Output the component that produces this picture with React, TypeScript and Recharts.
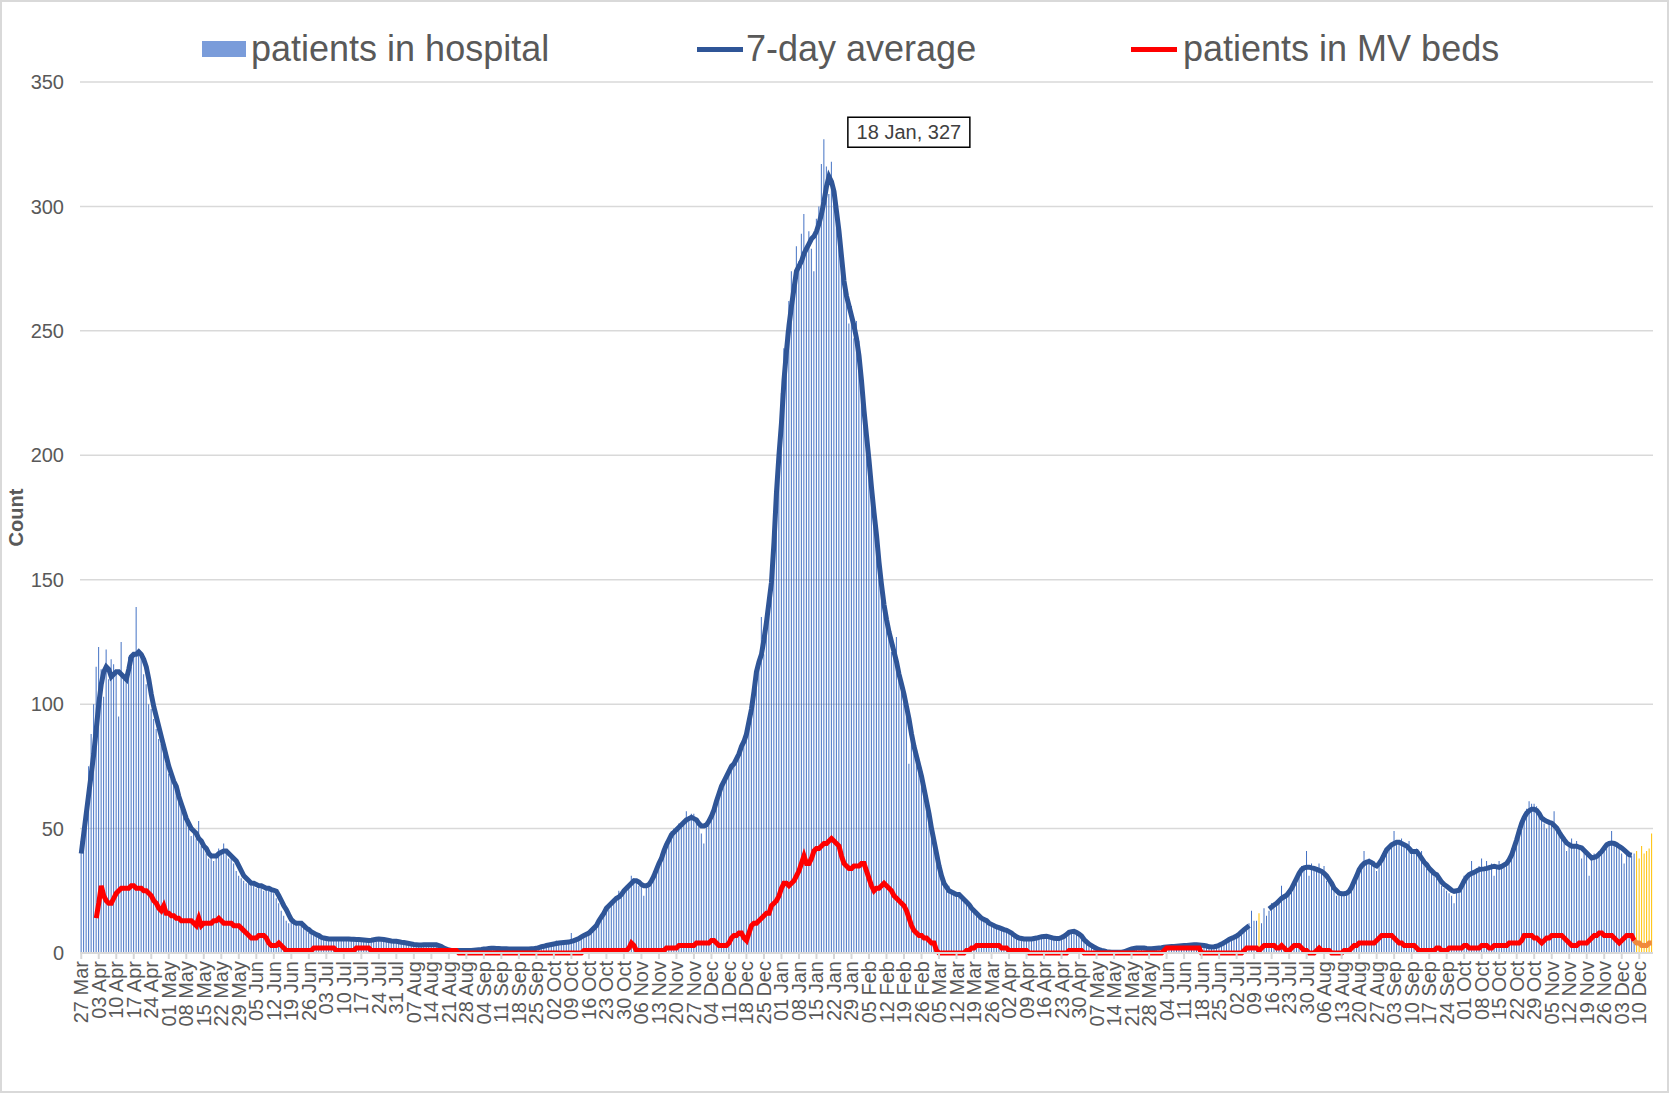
import { ComposedChart, Bar, Line, XAxis, YAxis, CartesianGrid, Cell } from 'recharts'

const W = 1669
const H = 1093
const FONT = "'Liberation Sans', Arial, sans-serif"
const TEXT = '#595959'

// one row per week, starting 27 Mar 2020
const hospital = [
  45, 52, 60, 75, 88, 100, 115,
  123, 114, 103, 122, 110, 118, 116,
  112, 95, 125, 110, 110, 119, 115,
  121, 139, 121, 120, 112, 108, 100,
  98, 94, 90, 86, 84, 80, 76,
  72, 70, 68, 65, 62, 58, 55,
  53, 52, 47, 50, 46, 53, 43,
  42, 40, 38, 39, 37, 40, 42,
  41, 44, 40, 38, 39, 36, 33,
  31, 30, 29, 28, 28, 27, 27,
  26, 26, 27, 25, 26, 25, 26,
  24, 22, 20, 17, 15, 13, 12,
  13, 12, 12, 11, 12, 10, 9,
  8, 8, 7, 7, 6, 6, 6,
  6, 5, 6, 6, 5, 6, 5,
  6, 5, 6, 5, 6, 5, 5,
  5, 5, 5, 5, 5, 6, 6,
  6, 5, 5, 5, 5, 4, 5,
  4, 5, 4, 4, 4, 4, 3,
  3, 3, 3, 3, 4, 3, 3,
  4, 3, 3, 3, 2, 2, 1,
  1, 1, 1, 1, 1, 1, 1,
  1, 1, 1, 1, 1, 2, 1,
  2, 2, 2, 2, 2, 2, 2,
  2, 1, 2, 2, 2, 1, 2,
  2, 1, 2, 2, 1, 2, 2,
  2, 2, 3, 3, 3, 3, 4,
  4, 5, 4, 4, 4, 5, 4,
  8, 5, 6, 6, 7, 7, 8,
  8, 9, 10, 12, 14, 15, 16,
  19, 19, 20, 22, 22, 25, 23,
  26, 27, 28, 31, 30, 29, 27,
  28, 23, 27, 28, 30, 33, 35,
  37, 40, 43, 45, 47, 49, 50,
  50, 52, 51, 53, 57, 55, 56,
  56, 54, 52, 48, 44, 52, 54,
  56, 58, 62, 65, 68, 70, 72,
  74, 75, 77, 79, 82, 84, 87,
  90, 96, 101, 108, 114, 118, 135,
  120, 130, 142, 155, 172, 190, 206,
  225, 243, 250, 262, 274, 270, 284,
  278, 289, 297, 282, 290, 283, 274,
  295, 300, 317, 327, 316, 305, 318,
  302, 295, 292, 285, 268, 262, 253,
  260, 247, 254, 246, 238, 222, 210,
  200, 182, 177, 165, 160, 150, 138,
  134, 128, 121, 124, 127, 112, 105,
  103, 97, 76, 90, 85, 78, 74,
  70, 66, 60, 55, 48, 43, 38,
  33, 30, 27, 25, 27, 24, 25,
  24, 23, 22, 21, 20, 19, 18,
  17, 16, 15, 14, 14, 13, 12,
  11, 12, 10, 10, 10, 9, 9,
  8, 8, 7, 6, 6, 6, 5,
  5, 6, 6, 6, 6, 7, 6,
  7, 7, 6, 6, 6, 5, 6,
  6, 7, 8, 9, 9, 9, 8,
  7, 7, 5, 4, 4, 3, 2,
  2, 1, 1, 1, 0, 0, 0,
  0, 0, 0, 0, 1, 1, 1,
  2, 2, 2, 2, 2, 2, 2,
  2, 2, 2, 2, 2, 2, 3,
  2, 3, 3, 3, 3, 3, 3,
  3, 3, 3, 4, 3, 3, 3,
  3, 3, 3, 2, 2, 3, 3,
  3, 4, 4, 5, 6, 6, 7,
  7, 8, 9, 10, 11, 12, 17,
  13, 13, 16, 12, 18, 15, 17,
  20, 18, 21, 22, 27, 22, 24,
  25, 27, 28, 31, 33, 35, 34,
  41, 31, 36, 35, 33, 36, 32,
  35, 29, 30, 27, 25, 23, 23,
  24, 23, 24, 25, 27, 29, 32,
  34, 36, 41, 37, 38, 36, 37,
  33, 35, 38, 40, 42, 43, 44,
  49, 45, 44, 46, 43, 42, 45,
  41, 40, 42, 39, 41, 36, 34,
  33, 32, 31, 30, 29, 27, 26,
  25, 24, 23, 20, 25, 26, 28,
  31, 30, 32, 37, 33, 34, 35,
  38, 34, 37, 35, 36, 31, 35,
  37, 34, 36, 37, 38, 42, 43,
  46, 50, 53, 56, 58, 61, 60,
  60, 59, 56, 55, 52, 50, 53,
  52, 57, 50, 49, 47, 45, 41,
  44, 46, 43, 45, 42, 38, 42,
  40, 31, 38, 40, 39, 41, 42,
  43, 44, 45, 49, 44, 43, 42,
  40, 36, 41, 40, 39, 40, 41,
  38, 43, 40, 41, 42, 48,
]

const avg7 = [
  40, 48, 56, 64, 72, 80, 90,
  100, 108, 113, 115, 114, 111, 112,
  113, 113, 112, 111, 110, 114, 119,
  120, 120, 121, 120, 118, 115, 110,
  104, 99, 95, 91, 87, 83, 79,
  75, 72, 69, 67, 63, 60, 57,
  54, 52, 50, 49, 48, 46, 45,
  43, 42, 40, 39, 39, 39, 40,
  40.5, 41, 41, 40, 39, 38, 37,
  35, 33, 31, 30, 29, 28, 28,
  27.5, 27, 27, 26.5, 26, 26, 25.5,
  25.2, 24.8, 23, 21, 19, 17.4, 15.3,
  13.4, 12.5, 12, 12, 12, 11, 10,
  9.4, 8.5, 8, 7.4, 7, 6.3, 6,
  5.8, 5.6, 5.6, 5.6, 5.6, 5.6, 5.6,
  5.6, 5.6, 5.6, 5.5, 5.5, 5.4, 5.4,
  5.3, 5.2, 5.1, 5, 5.1, 5.3, 5.5,
  5.6, 5.5, 5.4, 5.2, 5, 4.8, 4.7,
  4.7, 4.5, 4.3, 4.2, 4, 3.8, 3.6,
  3.4, 3.3, 3.2, 3.2, 3.3, 3.3, 3.3,
  3.3, 3.3, 3.3, 3, 2.6, 2, 1.6,
  1.2, 1, 1, 1, 1, 1, 1,
  1, 1, 1, 1.1, 1.2, 1.3, 1.4,
  1.6, 1.6, 1.8, 1.9, 1.9, 1.8, 1.8,
  1.7, 1.7, 1.7, 1.6, 1.6, 1.6, 1.6,
  1.6, 1.6, 1.6, 1.6, 1.6, 1.7, 1.7,
  1.9, 2.2, 2.5, 2.7, 3, 3.2, 3.4,
  3.6, 3.8, 4, 4.1, 4.2, 4.3, 4.4,
  4.7, 5, 5.4, 5.8, 6.5, 7, 7.5,
  8, 9, 10, 11, 13, 14.5, 16,
  18, 19, 20, 21, 22, 22.5, 23.5,
  25, 26, 27, 28, 29, 29, 28.5,
  27.5, 27, 27, 27.5, 29, 31, 33.5,
  36, 38, 41, 43.5, 45.5, 47.5, 48.5,
  49.5, 50.5, 51.5, 52.5, 53.5, 54, 54.5,
  54, 53.5, 52, 51, 51, 51.5, 53,
  55, 57.5, 61, 64, 67, 69, 71,
  73, 75, 76, 78, 80, 83, 85,
  88, 93, 98, 105, 113, 117, 120,
  126, 133, 141, 149, 165, 185, 200,
  213, 230, 242, 252, 260, 267, 274,
  276, 278, 281, 283, 285, 287, 288,
  290, 293, 297, 302, 308, 312, 310,
  306, 298, 290, 280, 270, 264, 260,
  256, 252, 247, 240, 230, 218, 208,
  198, 187, 177, 168, 157, 148, 140,
  134, 129, 125, 121, 117, 112, 108,
  104, 99, 94, 88, 83, 79, 75,
  71, 66, 61, 56, 50, 45, 40,
  35, 31, 28, 26.5, 25, 24.5, 24,
  23.5, 23.5, 22.5, 21.5, 20.5, 19.5, 18,
  17, 16, 15, 14, 13.5, 13, 12,
  11.5, 11, 10.5, 10.2, 9.8, 9.4, 9.1,
  8.6, 8, 7.2, 6.5, 6, 5.8, 5.6,
  5.6, 5.6, 5.6, 5.8, 6, 6.3, 6.5,
  6.6, 6.7, 6.5, 6.2, 5.9, 5.8, 5.8,
  6.2, 6.7, 7.5, 8.3, 8.6, 8.7, 8.3,
  7.6, 6.8, 5.4, 4.5, 3.6, 3, 2.4,
  1.8, 1.3, 1, 0.8, 0.5, 0.4, 0.3,
  0.3, 0.3, 0.3, 0.3, 0.5, 0.9, 1.3,
  1.6, 1.8, 2, 2, 2, 2, 1.8,
  1.7, 1.7, 1.8, 1.9, 2, 2.1, 2.3,
  2.4, 2.5, 2.6, 2.6, 2.7, 2.8, 2.9,
  3, 3, 3.1, 3.2, 3.3, 3.3, 3.2,
  3.1, 3, 2.8, 2.5, 2.4, 2.5, 2.7,
  3.1, 3.6, 4.2, 4.8, 5.4, 5.9, 6.3,
  6.8, 7.6, 8.5, 9.4, 10.2, 11, null,
  null, null, null, null, null, null, 17.7,
  18.5, 19.3, 20, 21, 22, 22.6, 23.2,
  24.5, 26, 28, 30, 32, 33.5, 34.2,
  34.5, 34.5, 34.2, 34, 33.6, 33.2, 32.8,
  32, 31, 29.5, 28, 26, 25, 24,
  23.8, 23.8, 24, 24.8, 26.5, 28.8, 31,
  33.5, 35, 36, 36.5, 36.8, 36.3, 35.5,
  35, 36, 37.5, 39.5, 41.5, 42.5, 43.5,
  44, 44.5, 44.5, 44, 43.5, 43, 42,
  40.8, 40.8, 40.8, 39.5, 38, 36.5, 35.5,
  34, 33, 32, 31.5, 30, 28.5, 27.5,
  26.8, 26, 25.2, 24.8, 25, 25.2, 27,
  29, 30.5, 31.5, 32, 32.4, 33, 33.5,
  33.7, 33.8, 34, 34.3, 34.6, 34.8, 34.6,
  34.4, 34.8, 35.4, 36, 37.5, 39.5, 42.5,
  45.5, 49, 52.2, 54.5, 56.2, 57.2, 57.8,
  57.8, 57.3, 56, 54.2, 53.5, 52.9, 52.5,
  52.2, 51.2, 50.2, 48.5, 46.9, 45.5, 44.2,
  43.5, 42.9, 42.9, 42.9, 42.5, 42.2, 41.2,
  40.2, 39.2, 38.2, 38.4, 38.8, 39.8, 40.8,
  42.2, 43.5, 44, 44.2, 44, 43.5, 42.8,
  42.2, 41.3, 40.4, 39.5, 39.3, null, null,
  null, null, null, null, null, null,
]

const mvBeds = [
  null, null, null, null, null, null, 14,
  20, 27, 23, 21, 20, 20, 22,
  24, 25, 26, 26, 26, 26, 27,
  27, 26, 26, 26, 25, 25, 24,
  23, 21, 20, 18, 17, 19, 16,
  16, 15, 15, 14, 14, 13, 13,
  13, 13, 13, 12, 11, 14, 11,
  12, 12, 12, 12, 13, 13, 14,
  13, 12, 12, 12, 12, 11, 11,
  11, 10, 9, 8, 7, 6, 6,
  6, 7, 7, 7, 6, 4, 3,
  3, 3, 4, 3, 2, 1, 1,
  1, 1, 1, 1, 1, 1, 1,
  1, 1, 2, 2, 2, 2, 2,
  2, 2, 2, 2, 1, 1, 1,
  1, 1, 1, 1, 1, 2, 2,
  2, 2, 2, 2, 1, 1, 1,
  1, 1, 1, 1, 1, 1, 1,
  1, 1, 1, 1, 1, 1, 1,
  1, 1, 1, 1, 1, 1, 1,
  1, 1, 1, 1, 1, 1, 1,
  1, 1, 1, 1, 0, 0, 0,
  0, 0, 0, 0, 0, 0, 0,
  0, 0, 0, 0, 0, 0, 0,
  0, 0, 0, 0, 0, 0, 0,
  0, 0, 0, 0, 0, 0, 0,
  0, 0, 0, 0, 0, 0, 0,
  0, 0, 0, 0, 0, 0, 0,
  0, 0, 0, 0, 0, 1, 1,
  1, 1, 1, 1, 1, 1, 1,
  1, 1, 1, 1, 1, 1, 1,
  1, 1, 2, 4, 3, 1, 1,
  1, 1, 1, 1, 1, 1, 1,
  1, 1, 1, 2, 2, 2, 2,
  2, 3, 3, 3, 3, 3, 3,
  3, 4, 4, 4, 4, 4, 4,
  5, 5, 4, 3, 3, 3, 3,
  4, 6, 7, 7, 8, 8, 6,
  5, 8, 11, 12, 12, 13, 14,
  15, 16, 16, 19, 20, 21, 23,
  26, 28, 28, 27, 28, 29, 31,
  33, 36, 39, 36, 36, 38, 41,
  42, 42, 43, 44, 44, 45, 46,
  45, 44, 43, 39, 36, 35, 34,
  34, 35, 35, 35, 36, 36, 33,
  30, 27, 25, 26, 26, 27, 28,
  27, 26, 25, 23, 22, 21, 20,
  19, 17, 14, 11, 9, 8, 7,
  7, 6, 6, 5, 4, 4, 1,
  0, 0, 0, 0, 0, 0, 0,
  0, 0, 0, 0, 1, 1, 2,
  2, 3, 3, 3, 3, 3, 3,
  3, 3, 3, 3, 2, 2, 2,
  1, 1, 1, 1, 1, 1, 1,
  1, 0, 0, 0, 0, 0, 0,
  0, 0, 0, 0, 0, 0, 0,
  0, 0, 0, 1, 1, 1, 1,
  1, 1, 0, 0, 0, 0, 0,
  0, 0, 0, 0, 0, 0, 0,
  0, 0, 0, 0, 0, 0, 0,
  0, 0, 0, 0, 0, 0, 0,
  0, 0, 0, 0, 0, 0, 1,
  2, 2, 2, 2, 2, 2, 2,
  2, 2, 2, 2, 2, 2, 2,
  0, 0, 0, 0, 0, 0, 0,
  0, 0, 0, 0, 0, 0, 0,
  0, 0, 0, 1, 2, 2, 2,
  2, 2, 1, 2, 3, 3, 3,
  3, 3, 2, 2, 3, 2, 1,
  1, 2, 3, 3, 3, 2, 1,
  1, 0, 0, 0, 1, 2, 1,
  1, 1, 1, 0, 0, 0, 0,
  0, 1, 1, 1, 2, 3, 3,
  4, 4, 4, 4, 4, 4, 4,
  5, 6, 7, 7, 7, 7, 7,
  6, 5, 4, 4, 3, 3, 3,
  3, 3, 2, 1, 1, 1, 1,
  1, 1, 1, 2, 2, 1, 1,
  1, 2, 2, 2, 2, 2, 2,
  3, 3, 2, 2, 2, 2, 2,
  3, 3, 3, 2, 2, 3, 3,
  3, 3, 3, 3, 4, 4, 4,
  4, 4, 5, 7, 7, 7, 7,
  6, 6, 5, 4, 5, 6, 6,
  7, 7, 7, 7, 7, 6, 5,
  4, 3, 3, 3, 4, 4, 4,
  4, 5, 6, 7, 7, 8, 8,
  7, 7, 7, 7, 6, 5, 4,
  5, 6, 7, 7, 7, 5, null,
  null, null, null, null, null, null,
]

// incomplete recent figures, drawn in yellow / orange
const provisionalDays = [
  '2021-07-11', '2021-12-09', '2021-12-10', '2021-12-11',
  '2021-12-12', '2021-12-13', '2021-12-14', '2021-12-15',
]
const mvProvisionalFrom = '2021-12-08'
const mvProvisional = [5, 4, 4, 3, 3, 3, 4, 4]

const yTicks = [0, 50, 100, 150, 200, 250, 300, 350]
const MONTHS = ['Jan', 'Feb', 'Mar', 'Apr', 'May', 'Jun', 'Jul', 'Aug', 'Sep', 'Oct', 'Nov', 'Dec']
const START = Date.UTC(2020, 2, 27)
const DAY = 86400000

const dates = hospital.map((_, i) => new Date(START + i * DAY).toISOString().slice(0, 10))
const fmtDate = (iso: string) => `${iso.slice(8, 10)} ${MONTHS[Number(iso.slice(5, 7)) - 1]}`

const provStart = dates.indexOf(mvProvisionalFrom)
const data = dates.map((date, i) => ({
  date,
  hospital: hospital[i],
  avg: avg7[i],
  mv: mvBeds[i],
  mvProv: i >= provStart && i - provStart < mvProvisional.length ? mvProvisional[i - provStart] : null,
  provisional: provisionalDays.includes(date),
}))

const peakIndex = hospital.indexOf(Math.max(...hospital))

const DateTick = (props: any) => {
  const { x, y, payload } = props
  return (
    <text
      x={x}
      y={y}
      transform={`rotate(-90, ${x}, ${y})`}
      textAnchor="end"
      dy="0.35em"
      fontSize={20}
      fontFamily={FONT}
      fill={TEXT}
    >
      {fmtDate(payload.value)}
    </text>
  )
}

const PeakLabel = (props: any) => {
  const { x, y, width, value, index } = props
  if (index !== peakIndex) return null
  const text = `${fmtDate(dates[index])}, ${value}`
  const bx = x + width / 2 + 24
  const by = y - 22
  return (
    <g>
      <rect x={bx} y={by} width={122} height={30} fill="#fff" stroke="#000" strokeWidth={1.5} />
      <text x={bx + 61} y={by + 15} dy="0.35em" textAnchor="middle" fontSize={20} fontFamily={FONT} fill="#404040">
        {text}
      </text>
    </g>
  )
}

const legendItems = [
  { label: 'patients in hospital', kind: 'bar', color: '#7A9CDA', x: 202, textX: 251 },
  { label: '7-day average', kind: 'line', color: '#2F5597', x: 697, textX: 746 },
  { label: 'patients in MV beds', kind: 'line', color: '#FF0000', x: 1131, textX: 1183 },
]

export default function App() {
  return (
    <div
      style={{
        position: 'absolute',
        left: 0,
        top: 0,
        width: W,
        height: H,
        background: '#fff',
        fontFamily: FONT,
      }}
    >
      <ComposedChart
        width={W}
        height={H}
        data={data}
        margin={{ top: 82, right: 16, bottom: 50, left: 0 }}
        barCategoryGap="25%"
      >
        <CartesianGrid vertical={false} stroke="#D9D9D9" strokeWidth={1.5} />
        <XAxis
          dataKey="date"
          interval={6}
          height={90}
          tick={<DateTick />}
          tickSize={6}
          tickMargin={2}
          tickLine={{ stroke: '#D9D9D9', strokeWidth: 2 }}
          axisLine={{ stroke: '#D9D9D9', strokeWidth: 2 }}
        />
        <YAxis
          width={80}
          domain={[0, 350]}
          ticks={yTicks}
          axisLine={false}
          tickLine={false}
          tickMargin={10}
          tick={{ fontSize: 20, fill: TEXT, fontFamily: FONT }}
          label={{
            value: 'Count',
            angle: -90,
            position: 'insideLeft',
            offset: 16,
            style: { fontSize: 20, fontWeight: 700, fill: TEXT, fontFamily: FONT, textAnchor: 'middle' },
          }}
        />
        <Bar dataKey="hospital" fill="#4472C4" isAnimationActive={false} label={<PeakLabel />}>
          {data.map((d) => (
            <Cell key={d.date} fill={d.provisional ? '#FFC000' : '#4472C4'} />
          ))}
        </Bar>
        <Line dataKey="avg" stroke="#2F5597" strokeWidth={5} dot={false} isAnimationActive={false} />
        <Line dataKey="mv" stroke="#FF0000" strokeWidth={5} dot={false} isAnimationActive={false} />
        <Line dataKey="mvProv" stroke="#F08A3C" strokeWidth={5} dot={false} isAnimationActive={false} />
      </ComposedChart>

      {legendItems.map((item) => (
        <div key={item.label}>
          <div
            style={{
              position: 'absolute',
              left: item.x,
              top: item.kind === 'bar' ? 41 : 47,
              width: item.kind === 'bar' ? 44 : 46,
              height: item.kind === 'bar' ? 16 : 5,
              background: item.color,
            }}
          />
          <div
            style={{
              position: 'absolute',
              left: item.textX,
              top: 27,
              height: 44,
              lineHeight: '44px',
              fontSize: 36,
              color: TEXT,
              whiteSpace: 'nowrap',
            }}
          >
            {item.label}
          </div>
        </div>
      ))}

      <div
        style={{
          position: 'absolute',
          left: 0,
          top: 0,
          width: W,
          height: H,
          boxSizing: 'border-box',
          border: '2px solid #D9D9D9',
          pointerEvents: 'none',
        }}
      />
    </div>
  )
}
